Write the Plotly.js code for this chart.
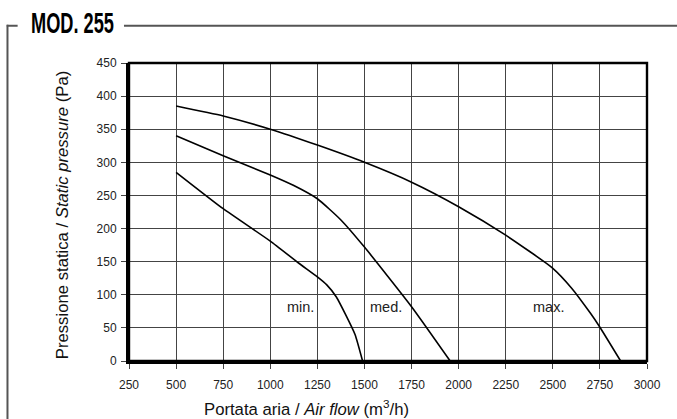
<!DOCTYPE html>
<html>
<head>
<meta charset="utf-8">
<script src="https://cdn.plot.ly/plotly-3.0.1.min.js"></script>
<style>html,body{margin:0;padding:0;background:#fff;}#chart{width:677px;height:419px;}</style>
</head>
<body>
<div id="chart"></div>
<script>
// Data
const minFlow = [500, 750, 1000, 1150, 1250, 1300, 1350, 1400, 1450, 1490];
const minPress = [285, 230, 181, 148, 127, 115, 97, 70, 40, 0];

const medFlow = [500, 750, 1000, 1125, 1250, 1375, 1500, 1750, 1955];
const medPress = [340, 310, 281, 265, 245, 213, 172, 82, 0];

const maxFlow = [500, 750, 1000, 1250, 1500, 1750, 2000, 2250, 2500, 2600, 2700, 2750, 2860];
const maxPress = [385, 370, 350, 326, 300, 270, 233, 190, 140, 110, 72, 51, 0];

const curveLabels = ["min.", "med.", "max."];
const labelFlow = [1160, 1615, 2475];
const labelPress = [81, 81, 81];

const xTicks = [250, 500, 750, 1000, 1250, 1500, 1750, 2000, 2250, 2500, 2750, 3000];
const yTicks = [0, 50, 100, 150, 200, 250, 300, 350, 400, 450];

const chartTitle = "MOD. 255";
const xTitle = "Portata aria / <i>Air flow</i> (m<sup>3</sup>/h)";
const yTitle = "Pressione statica / <i>Static pressure</i> (Pa)";

const FONT = '"Liberation Sans", Arial, sans-serif';

const lineStyle = {color: '#000', width: 1.6, shape: 'spline', smoothing: 0.5};
const traces = [
  {x: minFlow, y: minPress, mode: 'lines', line: lineStyle, hoverinfo: 'skip'},
  {x: medFlow, y: medPress, mode: 'lines', line: lineStyle, hoverinfo: 'skip'},
  {x: maxFlow, y: maxPress, mode: 'lines', line: lineStyle, hoverinfo: 'skip'}
];

const annotations = curveLabels.map((t, i) => ({
  x: labelFlow[i], y: labelPress[i], xref: 'x', yref: 'y', text: t, showarrow: false,
  font: {family: FONT, size: 14.5, color: '#222'}, xanchor: 'center', yanchor: 'middle'
}));
annotations.push({
  x: 0.342, y: -0.159, xref: 'paper', yref: 'paper', text: xTitle, showarrow: false,
  font: {family: FONT, size: 16.7, color: '#111'}, xanchor: 'center', yanchor: 'middle'
});
annotations.push({
  x: -0.127, y: 0.49, xref: 'paper', yref: 'paper', text: yTitle, showarrow: false, textangle: -90,
  font: {family: FONT, size: 16.7, color: '#111'}, xanchor: 'center', yanchor: 'middle'
});
annotations.push({
  x: -0.193, y: 1.133, xref: 'paper', yref: 'paper', text: '<b>' + chartTitle + '</b>', showarrow: false,
  font: {family: FONT, size: 29, color: '#000'}, xanchor: 'left', yanchor: 'middle', align: 'left'
});

const frameColor = '#555';
const shapes = [
  {type: 'line', xref: 'paper', yref: 'paper', x0: -0.2346, x1: -0.2346, y0: 1.128, y1: -0.21, line: {color: frameColor, width: 2}},
  {type: 'line', xref: 'paper', yref: 'paper', x0: -0.236, x1: -0.215, y0: 1.125, y1: 1.125, line: {color: frameColor, width: 2}},
  {type: 'line', xref: 'paper', yref: 'paper', x0: -0.0097, x1: 1.06, y0: 1.125, y1: 1.125, line: {color: frameColor, width: 2}},
  {type: 'rect', xref: 'paper', yref: 'paper', x0: 0, x1: 1, y0: 0, y1: 1, line: {color: '#000', width: 2.4}}
];

const layout = {
  width: 677, height: 419,
  margin: {l: 129, r: 30, t: 63, b: 58, pad: 0},
  paper_bgcolor: '#fff', plot_bgcolor: '#fff',
  showlegend: false,
  font: {family: FONT, size: 12, color: '#222'},
  xaxis: {
    range: [250, 3000], tickvals: xTicks, ticktext: xTicks.map(String),
    showgrid: true, gridcolor: '#444', gridwidth: 1, zeroline: false,
    showline: true, linecolor: '#000', linewidth: 3,
    ticks: 'outside', ticklen: 5, tickcolor: '#444', tickwidth: 1,
    tickfont: {family: FONT, size: 12, color: '#222'}, ticklabelstandoff: 6
  },
  yaxis: {
    range: [0, 450], tickvals: yTicks, ticktext: yTicks.map(String),
    showgrid: true, gridcolor: '#444', gridwidth: 1, zeroline: false,
    showline: true, linecolor: '#000', linewidth: 3,
    ticks: 'outside', ticklen: 5, tickcolor: '#444', tickwidth: 1,
    tickfont: {family: FONT, size: 12, color: '#222'}, ticklabelstandoff: 2
  },
  annotations: annotations,
  shapes: shapes
};

Plotly.newPlot('chart', traces, layout, {staticPlot: true, displayModeBar: false}).then(function (gd) {
  // Condense the bold title horizontally to match the reference's condensed typeface
  gd.querySelectorAll('text.annotation-text').forEach(function (t) {
    if (t.textContent.indexOf(chartTitle) !== -1) {
      t.setAttribute('textLength', '83');
      t.setAttribute('lengthAdjust', 'spacingAndGlyphs');
    }
  });
});
</script>
</body>
</html>
